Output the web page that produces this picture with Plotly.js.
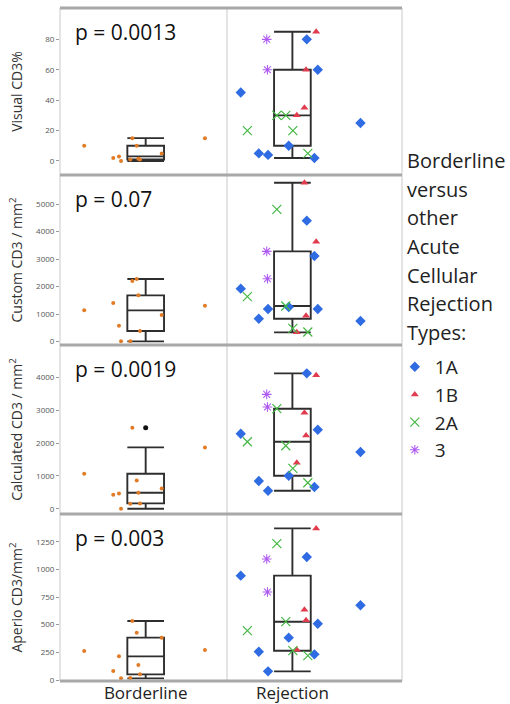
<!DOCTYPE html>
<html>
<head>
<meta charset="utf-8">
<script src="https://cdn.plot.ly/plotly-3.0.1.min.js"></script>
<style>html,body{margin:0;padding:0;background:#fff;}#chart{width:510px;height:704px;}</style>
</head>
<body>
<div id="chart"></div>
<script>
// ---------- data ----------
const categories = ['Borderline', 'Rejection'];
const panelTitles = ['Visual CD3%', 'Custom CD3 / mm<sup>2</sup>', 'Calculated CD3 / mm<sup>2</sup>', 'Aperio CD3/mm<sup>2</sup>'];
const pValues = ['p = 0.0013', 'p = 0.07', 'p = 0.0019', 'p = 0.003'];
const tickValues = [
  [0, 20, 40, 60, 80],
  [0, 1000, 2000, 3000, 4000, 5000],
  [0, 1000, 2000, 3000, 4000],
  [0, 250, 500, 750, 1000, 1250]
];

// Borderline patients (11)
const borderlineJitter = [-0.419, -0.221, -0.182, -0.168, -0.105, -0.091, -0.061, -0.050, -0.039, 0.109, 0.404];
const borderlineVisual = [10, 2, 3, 0, 1, 15, 10, 1.5, 1, 5, 15];
const borderlineCustom = [1138, 1404, 581, 12, 12, 2203, 2276, 1683, 387, 969, 1308];
const borderlineCalculated = [1066, 426, 467, 0, 152, 2467, 863, 487, 162, 619, 1868];
const borderlineAperio = [262, 81, 214, 15, 18, 533, 428, 136, 51, 383, 271];

// Rejection type 1A (8)
const type1AJitter = [-0.352, -0.229, -0.166, -0.025, 0.098, 0.150, 0.173, 0.464];
const type1AVisual = [45, 5, 4, 10, 80, 2, 60, 25];
const type1ACustom = [1925, 835, 1186, 1259, 4395, 3111, 1186, 750];
const type1ACalculated = [2284, 843, 548, 1005, 4122, 660, 2406, 1726];
const type1AAperio = [943, 256, 78, 383, 1111, 232, 509, 675];

// Rejection type 1B (4)
const type1BJitter = [0.030, 0.082, 0.093, 0.162];
const type1BVisual = [30, 35, 60, 85];
const type1BCustom = [339, 5775, 944, 3632];
const type1BCalculated = [1401, 2924, 2233, 4061];
const type1BAperio = [274, 636, 539, 1370];

// Rejection type 2A (5)
const type2AJitter = [-0.307, -0.106, -0.045, 0.003, 0.105];
const type2AVisual = [20, 30, 30, 20, 5];
const type2ACustom = [1634, 4806, 1295, 484, 351];
const type2ACalculated = [2040, 3046, 1919, 1228, 792];
const type2AAperio = [446, 1232, 527, 265, 220];

// Rejection type 3 (2)
const type3Jitter = [-0.175, -0.170];
const type3Visual = [80, 60];
const type3Custom = [3281, 2288];
const type3Calculated = [3482, 3096];
const type3Aperio = [1093, 795];

// ---------- build ----------
const FONT = '"Open Sans", "Noto Sans", sans-serif';
const panels = [
  {b: borderlineVisual, a: type1AVisual, bb: type1BVisual, c: type2AVisual, d: type3Visual},
  {b: borderlineCustom, a: type1ACustom, bb: type1BCustom, c: type2ACustom, d: type3Custom},
  {b: borderlineCalculated, a: type1ACalculated, bb: type1BCalculated, c: type2ACalculated, d: type3Calculated},
  {b: borderlineAperio, a: type1AAperio, bb: type1BAperio, c: type2AAperio, d: type3Aperio}
];
const yRanges = [[-9.2, 100.6], [-120, 6055], [-161, 4986], [-9, 1500]];
const domains = [[0.7519, 1], [0.4993, 0.7519], [0.2481, 0.4993], [0, 0.2481]];

const groups = [
  {key: 'a', jit: type1AJitter, name: '1A', marker: {symbol: 'diamond', size: 8, color: '#2F6BE2'}},
  {key: 'bb', jit: type1BJitter, name: '1B', marker: {symbol: 'triangle-up', size: 7, color: '#E03C4E'}},
  {key: 'c', jit: type2AJitter, name: '2A', marker: {symbol: 'x-thin-open', size: 9, color: '#45B845', line: {width: 1.2, color: '#45B845'}}},
  {key: 'd', jit: type3Jitter, name: '3', marker: {symbol: 'asterisk-open', size: 8, color: '#B05CF2', line: {width: 1.1, color: '#B05CF2'}}}
];

const traces = [];
const layout = {
  width: 510, height: 704,
  margin: {l: 60, r: 108, t: 8, b: 23},
  paper_bgcolor: '#ffffff', plot_bgcolor: 'rgba(0,0,0,0)',
  font: {family: FONT, color: '#222'},
  showlegend: true,
  legend: {
    x: 0.979, xanchor: 'left', y: 0.495, yanchor: 'top',
    font: {family: FONT, size: 19, color: '#222'},
    bgcolor: 'rgba(0,0,0,0)', borderwidth: 0, tracegroupgap: 0
  },
  xaxis: {
    range: [-0.584, 1.747], tickvals: [0, 1], ticktext: categories,
    tickfont: {family: FONT, size: 17, color: '#222'},
    showgrid: false, zeroline: false, showline: false, ticks: '',
    anchor: 'y4', automargin: false, fixedrange: true
  },
  annotations: [], shapes: []
};

panels.forEach((p, i) => {
  const yId = i === 0 ? 'y' : 'y' + (i + 1);
  const yKey = i === 0 ? 'yaxis' : 'yaxis' + (i + 1);
  layout[yKey] = {
    domain: domains[i], range: yRanges[i], tickvals: tickValues[i],
    tickfont: {family: FONT, size: 8, color: '#555'},
    ticks: 'outside', ticklen: 3, tickcolor: '#999', tickwidth: 1,
    showgrid: false, zeroline: false, showline: false, automargin: false,
    title: {text: panelTitles[i], font: {family: FONT, size: 14, color: '#333'}, standoff: i === 0 ? 19 : 10},
    fixedrange: true
  };
  const rej = [].concat(p.a, p.bb, p.c, p.d);
  traces.push({
    type: 'box', xaxis: 'x', yaxis: yId, x0: 0, y: p.b, width: 0.25,
    quartilemethod: 'exclusive', boxpoints: 'outliers', jitter: 0, pointpos: 0,
    whiskerwidth: 1, fillcolor: 'rgba(0,0,0,0)',
    line: {color: '#2e2e2e', width: 1.9}, marker: {color: '#111', size: 5},
    showlegend: false, hoverinfo: 'skip'
  });
  traces.push({
    type: 'box', xaxis: 'x', yaxis: yId, x0: 1, y: rej, width: 0.25,
    quartilemethod: 'exclusive', boxpoints: 'outliers', jitter: 0, pointpos: 0,
    whiskerwidth: 1, fillcolor: 'rgba(0,0,0,0)',
    line: {color: '#2e2e2e', width: 1.9}, marker: {color: '#111', size: 5},
    showlegend: false, hoverinfo: 'skip'
  });
  traces.push({
    type: 'scatter', mode: 'markers', xaxis: 'x', yaxis: yId,
    x: borderlineJitter.map(j => 0 + j), y: p.b,
    marker: {symbol: 'circle', size: 4, color: '#E27B26'},
    showlegend: false, name: 'Borderline'
  });
  groups.forEach(g => {
    traces.push({
      type: 'scatter', mode: 'markers', xaxis: 'x', yaxis: yId,
      x: g.jit.map(j => 1 + j), y: p[g.key],
      marker: g.marker, name: g.name, legendgroup: g.name,
      showlegend: i === 0
    });
  });
  layout.annotations.push({
    text: pValues[i], xref: 'paper', yref: yId + ' domain',
    x: 0.038, y: 1 - 24 / 167, xanchor: 'left', yanchor: 'middle',
    showarrow: false, font: {family: FONT, size: 21, color: '#111'}
  });
});

// legend heading lines
const headingLines = ['Borderline', 'versus', 'other', 'Acute', 'Cellular', 'Rejection', 'Types:'];
headingLines.forEach((t, k) => {
  const ypx = 160.7 + k * 28.6;
  layout.annotations.push({
    text: t, xref: 'paper', yref: 'paper', x: (405 - 60) / 342, y: (681 - ypx) / 673,
    xanchor: 'left', yanchor: 'middle', showarrow: false,
    font: {family: FONT, size: 20, color: '#222'}
  });
});

// frame lines
[1, 0.7519, 0.4993, 0.2481, 0].forEach(yv => {
  layout.shapes.push({type: 'line', xref: 'paper', yref: 'paper', x0: 0, x1: 1, y0: yv, y1: yv,
    line: {color: '#A8A8A8', width: 3}, layer: 'above'});
});
[0, 0.4883, 1].forEach(xv => {
  layout.shapes.push({type: 'line', xref: 'paper', yref: 'paper', x0: xv, x1: xv, y0: 0, y1: 1,
    line: {color: '#C9C9C9', width: 1}, layer: 'below'});
});

Plotly.newPlot('chart', traces, layout, {staticPlot: true, displayModeBar: false});
</script>
</body>
</html>
